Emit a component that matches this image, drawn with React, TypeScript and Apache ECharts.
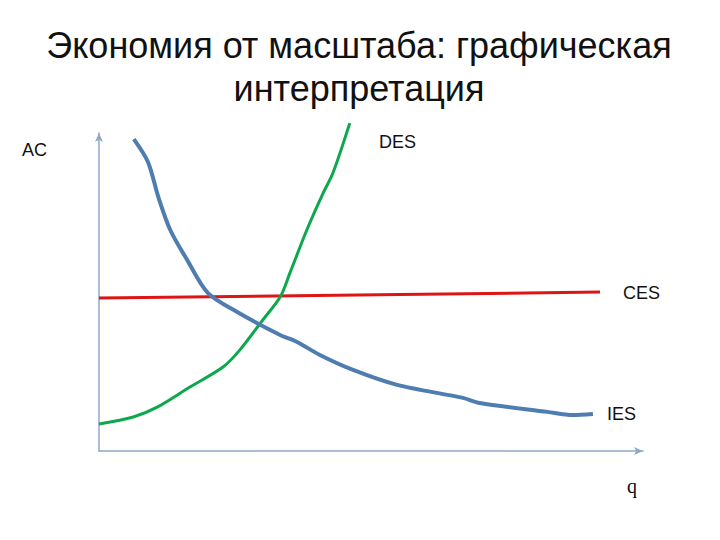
import React, { useEffect, useRef } from "react";
import * as echarts from "echarts";

const TITLE = "Экономия от масштаба: графическая\nинтерпретация";

// IES curve (q, AC)
const iesQ = [6.4, 9.0, 10.9, 13.1, 16.2, 20.0, 25.4, 33.3, 36.4, 40.6, 46.7, 54.8, 66.9, 70.0, 82.4, 87.1, 90.8];
const iesAC = [98.1, 90.9, 79.9, 69.5, 60.1, 49.7, 43.7, 36.5, 34.3, 30.2, 25.5, 20.8, 16.7, 15.1, 12.3, 11.3, 11.6];

// DES curve
const desQ = [0, 6.3, 10.7, 16.7, 22.8, 25.9, 30.1, 33.3, 35.1, 38.2, 41.2, 43.0, 46.1];
const desAC = [8.5, 10.7, 13.8, 20.1, 26.4, 31.8, 41.2, 48.4, 56.0, 69.5, 81.1, 87.4, 103.1];

// CES line
const cesQ = [0, 55.3, 92.1];
const cesAC = [48.1, 49.2, 50.0];

const zip = (a: number[], b: number[]) => a.map((v, i) => [v, b[i]]);

export default function App() {
  const ref = useRef<HTMLDivElement>(null);
  useEffect(() => {
    if (!ref.current) return;
    const chart = echarts.init(ref.current, null, { renderer: "svg" });
    const axisColor = "#8FA8C8";
    const sans = "Liberation Sans, Arial, sans-serif";
    chart.setOption({
      animation: false,
      backgroundColor: "#ffffff",
      grid: { left: 99, top: 133, right: 77, bottom: 89 },
      xAxis: {
        type: "value",
        min: 0,
        max: 100,
        axisLine: {
          show: true,
          symbol: ["none", "arrow"],
          symbolSize: [6, 9],
          lineStyle: { color: axisColor, width: 1.5 },
        },
        axisTick: { show: false },
        axisLabel: { show: false },
        splitLine: { show: false },
      },
      yAxis: {
        type: "value",
        min: 0,
        max: 100,
        axisLine: {
          show: true,
          symbol: ["none", "arrow"],
          symbolSize: [6, 9],
          lineStyle: { color: axisColor, width: 1.5 },
        },
        axisTick: { show: false },
        axisLabel: { show: false },
        splitLine: { show: false },
      },
      series: [
        {
          name: "CES",
          type: "line",
          data: zip(cesQ, cesAC),
          showSymbol: false,
          clip: false,
          lineStyle: { color: "#DD1515", width: 3 },
        },
        {
          name: "DES",
          type: "line",
          data: zip(desQ, desAC),
          smooth: 0.3,
          showSymbol: false,
          clip: false,
          lineStyle: { color: "#0DA84E", width: 3 },
        },
        {
          name: "IES",
          type: "line",
          data: zip(iesQ, iesAC),
          smooth: 0.3,
          showSymbol: false,
          clip: false,
          lineStyle: { color: "#4F7DB0", width: 4 },
        },
      ],
      graphic: [
        {
          type: "text",
          x: 359,
          y: 24,
          style: {
            text: TITLE,
            align: "center",
            verticalAlign: "top",
            fontSize: 36,
            lineHeight: 43,
            fontFamily: sans,
            fill: "#111111",
          },
        },
        { type: "text", left: 22, top: 141, style: { text: "AC", fontSize: 18, fontFamily: sans, fill: "#111" } },
        { type: "text", left: 379, top: 133, style: { text: "DES", fontSize: 18, fontFamily: sans, fill: "#111" } },
        { type: "text", left: 623, top: 284, style: { text: "CES", fontSize: 18, fontFamily: sans, fill: "#111" } },
        { type: "text", left: 607, top: 405, style: { text: "IES", fontSize: 18, fontFamily: sans, fill: "#111" } },
        { type: "text", left: 627, top: 476, style: { text: "q", fontSize: 20, fontFamily: "Liberation Serif, Times New Roman, serif", fill: "#111" } },
      ],
    });
    return () => chart.dispose();
  }, []);
  return <div ref={ref} style={{ width: 720, height: 540, position: "absolute", left: 0, top: 0 }} />;
}
